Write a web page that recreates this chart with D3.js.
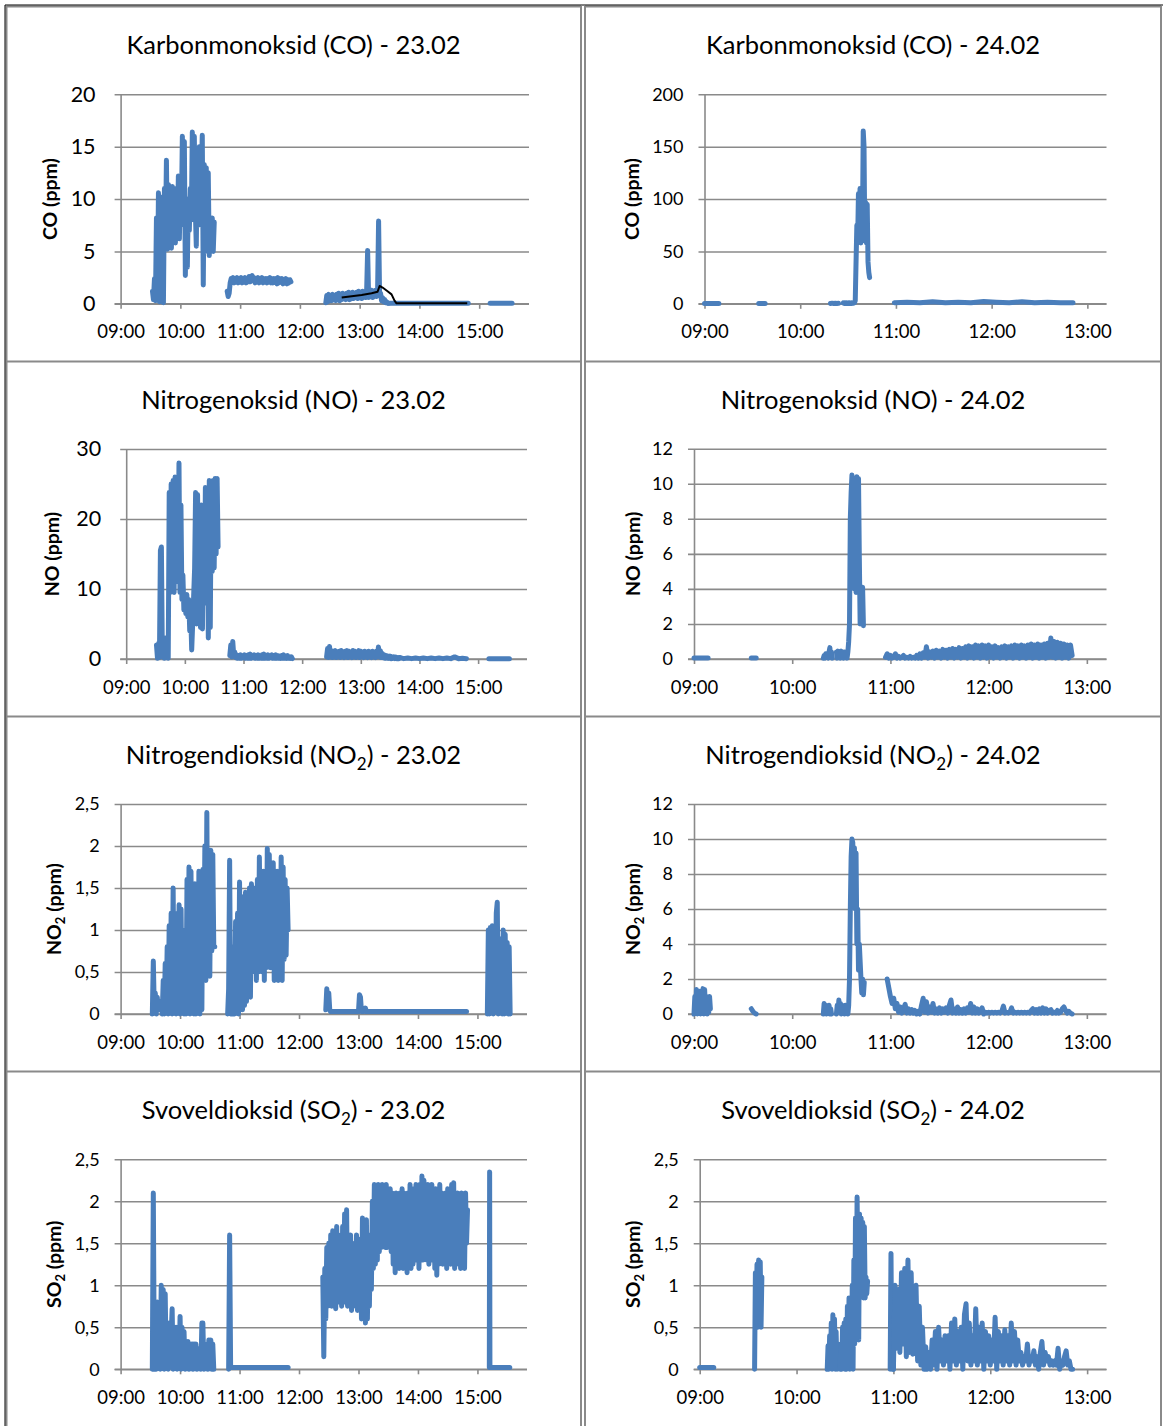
<!DOCTYPE html>
<html><head><meta charset="utf-8">
<script src="https://cdn.jsdelivr.net/npm/d3@7"></script>
<style>
html,body{margin:0;padding:0;background:#fff;}
svg{display:block;}
text{font-family:Lato,"Open Sans",sans-serif;fill:#000;}
</style></head><body>
<svg id="c" width="1163" height="1426"></svg>
<script>
// ---------------- DATA ----------------
// Each series: list of segments [startTime, stepMinutes, values]
const xTickLabels23 = ["09:00","10:00","11:00","12:00","13:00","14:00","15:00"];
const xTickLabels24 = ["09:00","10:00","11:00","12:00","13:00"];
const xEnd23 = "15:50", xEnd24 = "13:12";

const yTicksCO23 = [0,5,10,15,20],        yLabelsCO23 = ["0","5","10","15","20"];
const yTicksCO24 = [0,50,100,150,200],    yLabelsCO24 = ["0","50","100","150","200"];
const yTicksNO23 = [0,10,20,30],          yLabelsNO23 = ["0","10","20","30"];
const yTicksNO24 = [0,2,4,6,8,10,12],     yLabelsNO24 = ["0","2","4","6","8","10","12"];
const yTicksNO2_23 = [0,0.5,1,1.5,2,2.5], yLabelsNO2_23 = ["0","0,5","1","1,5","2","2,5"];
const yTicksNO2_24 = [0,2,4,6,8,10,12],   yLabelsNO2_24 = ["0","2","4","6","8","10","12"];
const yTicksSO2 = [0,0.5,1,1.5,2,2.5],    yLabelsSO2 = ["0","0,5","1","1,5","2","2,5"];

const titles = [
  ["Karbonmonoksid (CO) - 23.02"], ["Karbonmonoksid (CO) - 24.02"],
  ["Nitrogenoksid (NO) - 23.02"], ["Nitrogenoksid (NO) - 24.02"],
  ["Nitrogendioksid (NO","2",") - 23.02"], ["Nitrogendioksid (NO","2",") - 24.02"],
  ["Svoveldioksid (SO","2",") - 23.02"], ["Svoveldioksid (SO","2",") - 24.02"]
];
const yTitles = [
  ["CO (ppm)"], ["CO (ppm)"], ["NO (ppm)"], ["NO (ppm)"],
  ["NO","2"," (ppm)"], ["NO","2"," (ppm)"], ["SO","2"," (ppm)"], ["SO","2"," (ppm)"]
];

const CO_23 = [
  ["09:32", 1, [1.2,0.4,2.4,0.3,8.2,1.0,10.6,0.2,9.6,4.0,10.2,0.1,11.0,6.0,13.7,5.2,11.4,6.0,10.8,5.3,11.2,6.5,10.5,5.8,11.0,7.0,12.2,6.2,11.5,8.5,16.0,7.5,15.5,2.7,9.0,3.5,10.0,7.0,11.0,8.0,16.4,8.5,16.0,9.0,5.5,14.5,7.5,15.0,9.0,12.0,16.1,1.8,13.3,5.0,13.0,6.0,12.5,4.6,8.0,5.2,8.2,5.0,7.8]],
  ["10:47", 1, [1.2,0.7,1.0,2.0,2.4,2.1,2.5,2.0,2.4,2.1,2.5,2.0,2.4,2.2,2.5,2.0,2.4,2.1,2.5,2.0,2.4,2.1,2.6,2.1,2.5,2.7,2.2,2.5,2.0,2.4,2.1,2.5,2.0,2.4,2.1,2.5,2.0,2.4,2.1,2.4,2.0,2.4,2.1,2.5,2.0,2.4,2.0,2.4,2.1,2.4,1.9,2.5,2.0,2.4,2.1,2.4,1.9,2.3,2.0,2.4,1.9,2.3,2.0,2.3,2.1]],
  ["12:26", 1, [0.1,0.8,0.2,0.9,0.3,0.8,0.3,0.9,0.4,0.8, 0.3,0.9,0.4,1.0,0.3,0.9,0.4,1.0,0.5,0.9, 0.4,1.0,0.5,1.1,0.4,1.0,0.5,1.1,0.5,1.0, 0.6,1.1,0.5,1.2,0.6,1.1,0.5,1.2,0.6,1.1, 0.6,1.2,5.1,0.6,1.2,0.7,1.3,0.6,1.2,0.7, 1.3,0.7,1.2,7.9,0.8,1.0,0.3,0.6,0.2,0.4, 0.1,0.2,0.05,0.05]],
  ["13:29", 80, [0.05,0.05]],
  ["15:11", 22, [0.05,0.05]]
];
const CO_23_ref = [["12:42",0.6],["12:50",0.7],["13:02",0.85],["13:12",1.0],["13:16",1.1],["13:18",1.15],["13:20",1.7],["13:23",1.55],["13:28",1.2],["13:32",0.9],["13:35",0.3],["13:37",0.05],["14:48",0.05]];

const CO_24 = [
  ["09:00", 9, [0.3,0.3]],
  ["09:34", 4, [0.3,0.3]],
  ["10:19", 1, [0.3,0.6,0.3,0.5,0.3,0.5]],
  ["10:27", 0.5, [0.8,0.3,1.0,0.4,0.9,0.3,1.0,0.4,0.9,0.3,1.0,0.4,0.9,0.5,1.0,3,40,75,60,105,65,110,58,100,70,165,150,60,97,58,95,40,30,25]],
  ["10:59", 8, [1,1.5,1,2,1,1.5,1,2.2,1.5,1,2,1,1.5,1,1]]
];

const NO_23 = [
  ["09:31", 1, [2.0,0.1,2.2,0.2,15.5,16.0,0.3,2.5,0.1,3.0,0.2,2.8,0.1,23.8,9.5,25.0,10.0,25.5,9.5,26.0,11.0,25.0,12.0,28.0,9.5,22.0,8.5,12.0,7.0,9.0,6.5,9.2,6.0,8.5,4.0,6.5,1.3,5.0,9.0,13.0,23.8,5.0,23.5,6.0,21.0,4.5,22.0,4.3,20.0,8.0,24.5,10.0,24.0,3.0,25.5,4.5,25.0,12.5,25.5,13.0,25.8,15.0,25.8,16.0]],
  ["10:46", 1, [0.5,2.0,0.3,2.5,0.5,1.0,0.2, 0.6,0.1,0.5,0.1,0.6,0.1,0.5,0.2,0.6,0.1, 0.5,0.1,0.6,0.1,0.7,0.1,0.5,0.2,0.6,0.1, 0.5,0.1,0.6,0.1,0.5,0.1,0.6,0.1,0.7,0.1, 0.5,0.1,0.6,0.1,0.5,0.2,0.6,0.1,0.5,0.1, 0.6,0.1,0.5,0.1,0.4,0.1,0.5,0.1,0.6,0.1, 0.4,0.1,0.5,0.1,0.3,0.1,0.3,0.05]],
  ["12:25", 1, [0.3,1.5,0.2,1.8,0.3,1.2,0.2,1.1,0.3,1.2, 0.2,1.0,0.3,1.1,0.2,1.2,0.3,1.0,0.2,1.1, 0.3,1.2,0.2,1.1,0.3,1.0,0.2,1.2,0.3,1.1, 0.2,1.0,0.3,1.2,0.2,1.1,0.3,1.0,0.2,1.1, 0.3,1.0,0.2,1.1,0.3,1.0,0.2,1.1,0.3,1.0, 0.2,1.1,0.3,1.7,0.3,1.2,0.2,0.8,0.2,0.6, 0.1,0.5,0.1,0.4,0.1,0.4,0.05,0.3,0.1,0.3, 0.05,0.25,0.05,0.2,0.05,0.2]],
  ["13:40", 4, [0.2,0.05,0.15,0.05,0.15,0.05,0.15,0.05,0.15,0.05,0.15,0.05,0.15,0.05,0.3,0.05,0.1,0.05]],
  ["15:11", 21, [0.05,0.05]]
];

const NO_24 = [
  ["09:00", 8.6, [0.05,0.05]],
  ["09:35", 3, [0.05,0.05]],
  ["10:19", 0.5, [0.05,0.2,0.05,0.3,0.1,0.2,0.05,0.4,0.65,0.1,0.4,0.05]],
  ["10:27", 0.5, [0.4,0.05,0.45,0.1,0.4,0.05,0.45,0.1,0.4,0.05,0.4,0.1,0.35,0.05,0.4,1.0,2.0,8.0,9.5,10.5,5.0,10.3,4.0,9.0,3.8,10.4,5.0,10.3,5.8,2.0,4.0,2.0,4.1,1.9]],
  ["10:57", 1, [0.1,0.3,0.05,0.2,0.05,0.1,0.3,0.05,0.15,0.05,0.1,0.2,0.05,0.1,0.05,0.15,0.05,0.1,0.05,0.2,0.1]],
  ["11:17", 1, [0.05,0.3,0.05,0.35,0.1,0.7,0.05,0.4,0.1,0.45, 0.05,0.5,0.1,0.45,0.05,0.55,0.1,0.5,0.05,0.55, 0.1,0.6,0.05,0.55,0.1,0.65,0.05,0.6,0.1,0.7, 0.05,0.75,0.1,0.7,0.05,0.8,0.1,0.75,0.05,0.8, 0.1,0.75,0.05,0.8,0.1,0.7,0.05,0.75,0.1,0.65, 0.05,0.7,0.1,0.75,0.05,0.7,0.1,0.75,0.05,0.8, 0.1,0.75,0.05,0.8,0.1,0.75,0.05,0.8,0.1,0.85, 0.05,0.8,0.1,0.85,0.05,0.8,0.1,0.85,0.05,0.9, 0.1,1.2,0.1,1.0,0.05,0.95,0.1,0.9,0.05,0.85, 0.1,0.8,0.05,0.8,0.2]]
];

const NO2_23 = [
  ["09:32", 1, [0.0,0.63,0.05,0.25,0.0,0.2,0.05,0.15,0.05,0.1,0.0,0.4,0.0,0.6,0.1,0.8,0.0,1.05,0.2,1.2,0.0,1.5,0.1,1.2,0.0,1.0,0.3,1.3,0.0,1.25,0.1,1.0,0.0,0.75,0.0,1.6,0.3,1.75,0.0,1.7,0.2,1.5,0.0,1.55,0.0,1.2,0.1,1.7,0.0,1.4,0.05,1.72,0.5,2.0,0.4,2.4,0.45,1.6,0.45,1.95,0.75,1.9,0.8,0.8]],
  ["10:48", 1, [0.0,0.3,1.83,0.0,0.6,0.0,0.8,0.0,1.1,0.05, 1.2,0.0,1.57,0.1,1.4,0.05,1.3,0.1,1.45,0.15, 1.3,0.3,1.5,0.2,1.55,0.5,1.3,0.6,1.5,0.4, 1.6,0.5,1.87,0.6,1.7,0.5,1.7,0.4,1.6,0.55, 1.97,0.7,1.9,0.55,1.5,0.6,1.8,0.4,1.65,0.6, 1.7,0.4,1.6,0.7,1.87,0.4,1.75,0.65,1.6,0.7, 1.5,1.0]],
  ["12:27", 1, [0.05,0.3,0.15,0.25,0.05,0.03]],
  ["12:32", 28, [0.03,0.03]],
  ["13:00", 1, [0.03,0.23,0.2,0.03,0.07,0.03,0.05,0.07,0.03]],
  ["13:08", 101, [0.03,0.03]],
  ["15:10", 1, [0.0,1.0,0.0,1.03,0.05,1.05,0.0,1.0,0.1,1.2,1.33,0.0,0.9,0.05,0.85,0.0,1.0,0.0,0.95,0.05,0.85,0.0,0.8,0.0]]
];

const NO2_24 = [
  ["09:00", 0.5, [0.0,1.0,0.1,1.4,0.0,1.2,0.2,1.3,0.0,1.1,0.1,1.45,0.0,1.4,0.2,1.0,0.0,0.9,0.1,1.0,0.3]],
  ["09:35", 1, [0.3,0.15,0.05,0.0]],
  ["10:19", 0.5, [0.0,0.6,0.1,0.5,0.0,0.4,0.1,0.5,0.0,0.3,0.0]],
  ["10:27", 0.5, [0.0,0.5,0.1,0.8,0.2,0.6,0.0,0.5,0.1,0.4,0.0,0.5,0.1,0.4,0.0,0.5,2.0,6.0,9.0,10.0,9.8,7.0,9.5,6.0,9.2,4.0,6.0,2.5,4.0,3.0,2.0,1.2,2.0,1.1,1.8]],
  ["10:58", 1, [2.0,1.5,1.0,0.6,0.9,0.3,0.6,0.1,0.4,0.05, 0.3,0.55,0.05,0.3,0.05,0.25,0.05,0.2,0.0,0.15, 0.0,0.5,0.9,0.1,0.7,0.05,0.4,0.1,0.6,0.05, 0.3,0.05,0.35,0.05,0.3,0.1,0.35,0.05,0.5,0.8, 0.05,0.3,0.05,0.4,0.05,0.25,0.05,0.3,0.05,0.35, 0.1,0.6,0.05,0.4,0.05,0.3,0.05,0.2,0.35,0.0, 0.1,0.05,0.1,0.05,0.1,0.05,0.1,0.05,0.1,0.05, 0.15,0.45,0.05,0.1,0.05,0.1,0.35,0.05,0.1,0.05, 0.1,0.05,0.1,0.05,0.1,0.05,0.1,0.05,0.2,0.3, 0.05,0.25,0.05,0.3,0.05,0.35,0.05,0.3,0.05,0.2, 0.25,0.05,0.1,0.05,0.2,0.05,0.1,0.3,0.4,0.2, 0.05,0.15,0.05,0.0]]
];

const SO2_23 = [
  ["09:32", 1, [0.0,2.1,0.0,0.8,0.0,0.8,0.05,0.7,0.0,1.0, 0.1,0.95,0.0,0.9,0.05,0.5,0.0,0.55,0.05,0.4, 0.72,0.0,0.5,0.05,0.5,0.0,0.4,0.05,0.63,0.0, 0.5,0.05,0.45,0.0,0.3,0.05,0.33,0.0,0.25,0.05, 0.3,0.0,0.3,0.05,0.3,0.0,0.2,0.05,0.25,0.0, 0.55,0.55,0.0,0.3,0.05,0.25,0.0,0.35,0.05,0.35, 0.0,0.3,0.0]],
  ["10:49", 1, [0.0,1.6,0.02]],
  ["10:51", 58, [0.02,0.02]],
  ["12:24", 1, [1.1,0.15,1.2,0.6,1.45,0.75,1.5,0.8,1.6,0.75, 1.65,0.9,1.5,0.72,1.7,0.8,1.6,0.85,1.55,0.75, 1.7,0.9,1.85,0.8,1.9,0.75,1.5,0.85,1.6,0.7, 1.5,0.8,1.45,0.75,1.6,0.7,1.55,0.9,1.5,0.6, 1.8,0.75,1.6,0.55,1.78,0.6,1.5,0.75,1.6,0.95, 2.0,1.2,2.2,1.25,2.15,1.3,2.2,1.4,2.1,1.45, 2.2,1.5,2.15,1.45,2.2,1.45,2.1,1.5,2.15,1.4, 2.1,1.25,2.0,1.15,2.1,1.3,2.0,1.2,2.1,1.3, 2.15,1.2,2.1,1.35,2.0,1.15,2.1,1.3,2.2,1.2, 2.1,1.25,2.15,1.4,2.2,1.3,2.1,1.2,2.2,1.35, 2.3,1.3,2.25,1.4,2.1,1.3,2.2,1.25,2.1,1.4, 2.2,1.3,2.1,1.2,2.15,1.12,2.0,1.25,2.2,1.35, 2.1,1.25,2.0,1.3,2.1,1.2,2.15,1.4,2.0,1.25, 2.2,1.3,2.22,1.2,2.0,1.25,2.1,1.35,2.05,1.2, 2.1,1.4,2.05,1.2,2.1,1.5,1.9]],
  ["15:12", 0.3, [0.02,2.35,0.02]],
  ["15:12:36", 20, [0.02,0.02]]
];

const SO2_24 = [
  ["09:00", 8.7, [0.02,0.02]],
  ["09:34", 0.5, [0,1.15,0.6,1.25,0.5,1.3,0.55,1.28,0.5,1.1]],
  ["10:19", 0.5, [0.0,0.28,0.0,0.4,0.05,0.55,0.0,0.65,0.1,0.6,0.0,0.45,0.0,0.3]],
  ["10:27", 0.5, [0.0,0.3,0.0,0.5,0.05,0.55,0.0,0.6,0.0,0.75, 0.05,0.85,0.0,0.8,0.1,1.0,0.0,1.3,0.3,1.8, 0.5,2.05,1.2,0.35,1.85,1.0,1.8,0.9,1.75,0.85, 1.7,0.85,1.1,0.9,1.05]],
  ["10:58", 0.5, [0.0,1.38,0.0,0.2,0.0]],
  ["11:00", 1, [0.0,1.0,0.25,0.95,0.2,1.15,0.3,1.2,0.15,1.3, 0.2,1.15,0.18,0.9,1.0,0.1,0.75,0.05,0.5,0.0, 0.27,0.0,0.2,0.0,0.35,0.05,0.45,0.0,0.5,0.1, 0.35,0.05,0.4,0.1,0.4,0.0,0.55,0.1,0.6,0.05, 0.45,0.1,0.5,0.0,0.65,0.78,0.1,0.55,0.05,0.4, 0.1,0.72,0.05,0.5,0.1,0.55,0.0,0.45,0.1,0.4, 0.05,0.35,0.1,0.62,0.0,0.45,0.1,0.4,0.05,0.47, 0.1,0.4,0.05,0.55,0.1,0.45,0.05,0.35,0.1,0.2, 0.05,0.15,0.1,0.3,0.05,0.15,0.1,0.22,0.05,0.15, 0.0,0.2,0.33,0.05,0.2,0.1,0.15,0.05,0.1,0.05, 0.1,0.05,0.25,0.0,0.1,0.05,0.15,0.22,0.05,0.1, 0.0,0.0]]
];

// ---------------- LAYOUT ----------------
const rowTops = [6.5, 361.5, 716.5, 1071.5];
const colCenters = [293.5, 873];
const panels = [
  {row:0,col:0,series:CO_23, ref:CO_23_ref, yt:yTicksCO23, yl:yLabelsCO23, ymax:20,  xl:xTickLabels23, xEnd:xEnd23, left:120.6, right:529,    top:94.3,   bottom:303.8, ytf:21.5, ytx:50},
  {row:0,col:1,series:CO_24, yt:yTicksCO24, yl:yLabelsCO24, ymax:200, xl:xTickLabels24, xEnd:xEnd24, left:704.5, right:1106.5, top:94.3,   bottom:303.8, ytf:18, ytx:632},
  {row:1,col:0,series:NO_23, yt:yTicksNO23, yl:yLabelsNO23, ymax:30,  xl:xTickLabels23, xEnd:xEnd23, left:126.2, right:527,    top:449,    bottom:659,   ytf:21.5, ytx:52},
  {row:1,col:1,series:NO_24, yt:yTicksNO24, yl:yLabelsNO24, ymax:12,  xl:xTickLabels24, xEnd:xEnd24, left:694,   right:1106.5, top:448.7,  bottom:659,   ytf:18, ytx:633},
  {row:2,col:0,series:NO2_23, yt:yTicksNO2_23, yl:yLabelsNO2_23, ymax:2.5, xl:xTickLabels23, xEnd:xEnd23, left:120.6, right:527, top:804, bottom:1014, ytf:18, ytx:54},
  {row:2,col:1,series:NO2_24, yt:yTicksNO2_24, yl:yLabelsNO2_24, ymax:12, xl:xTickLabels24, xEnd:xEnd24, left:694, right:1106.5, top:804, bottom:1014, ytf:18, ytx:633},
  {row:3,col:0,series:SO2_23, yt:yTicksSO2, yl:yLabelsSO2, ymax:2.5, xl:xTickLabels23, xEnd:xEnd23, left:120.6, right:527, top:1159.3, bottom:1369.3, ytf:18, ytx:54},
  {row:3,col:1,series:SO2_24, yt:yTicksSO2, yl:yLabelsSO2, ymax:2.5, xl:xTickLabels24, xEnd:xEnd24, left:699.7, right:1106.5, top:1159.3, bottom:1369.3, ytf:18, ytx:633}
];

const GRID = "#8a8a8a", BLUE = "#4A7EBB";
const pHMS = d3.timeParse("%H:%M:%S"), pHM = d3.timeParse("%H:%M");
const parseT = s => pHMS(s) || pHM(s);

const svg = d3.select("#c");

// cell borders
const borders = svg.append("g").attr("fill","none");
[[6.5,581],[585,1161]].forEach(([x1,x2])=>{
  [x1,x2].forEach(x=>borders.append("line").attr("x1",x).attr("x2",x).attr("y1",6).attr("y2",1426).attr("stroke",GRID).attr("stroke-width",2));
  rowTops.forEach(y=>borders.append("line").attr("x1",x1).attr("x2",x2).attr("y1",y).attr("y2",y).attr("stroke",GRID).attr("stroke-width",2));
});
borders.append("line").attr("x1",5).attr("x2",1163).attr("y1",5).attr("y2",5).attr("stroke","#000").attr("stroke-width",1);
borders.append("line").attr("x1",5).attr("x2",5).attr("y1",5).attr("y2",1426).attr("stroke","#000").attr("stroke-width",1);

function addParts(textSel, parts, subSize, subDy){
  parts.forEach((p,i)=>{
    const sub = i % 2 === 1;
    const t = textSel.append("tspan").text(p);
    if (sub) t.attr("font-size", subSize).attr("dy", subDy);
    else if (i > 0) t.attr("dy", -subDy);
  });
}

panels.forEach((P, idx) => {
  const g = svg.append("g");
  const x = d3.scaleTime().domain([parseT("09:00"), parseT(P.xEnd)]).range([P.left, P.right]);
  const y = d3.scaleLinear().domain([0, P.ymax]).range([P.bottom, P.top]);

  // title
  const tt = g.append("text").attr("x", colCenters[P.col]).attr("y", rowTops[P.row] + 47.5)
    .attr("text-anchor","middle").attr("font-size", 25.5);
  addParts(tt, titles[idx], 17, 6);

  // y axis title
  const yt = g.append("text")
    .attr("transform", `translate(${P.ytx},${(P.top+P.bottom)/2}) rotate(-90)`)
    .attr("y", 7).attr("text-anchor","middle").attr("font-size",19.5).attr("font-weight","bold");
  addParts(yt, yTitles[idx], 13, 4);

  // y axis with gridlines
  const ya = g.append("g").attr("transform",`translate(${P.left},0)`)
    .call(d3.axisLeft(y).tickValues(P.yt).tickFormat((d,i)=>P.yl[i])
      .tickSizeInner(-(P.right-P.left)).tickSizeOuter(0).tickPadding(P.ytf > 20 ? 25 : 21));
  ya.selectAll(".tick line").attr("x1", -6).attr("stroke", GRID).attr("stroke-width", 1.6);
  ya.select(".domain").attr("stroke", GRID).attr("stroke-width", 1.6);
  ya.selectAll(".tick text").attr("font-size", P.ytf).attr("font-family","Lato").attr("fill","#000");

  // x axis
  const xa = g.append("g").attr("transform",`translate(0,${P.bottom})`)
    .call(d3.axisBottom(x).tickValues(P.xl.map(parseT)).tickFormat((d,i)=>P.xl[i])
      .tickSizeInner(5).tickSizeOuter(0).tickPadding(16.5));
  xa.select(".domain").attr("stroke", GRID).attr("stroke-width", 1.6)
    .attr("d", `M${P.left-6},0H${P.right}`);
  xa.selectAll(".tick line").attr("stroke", GRID).attr("stroke-width", 1.6);
  xa.selectAll(".tick text").attr("font-size", 18.5).attr("font-family","Lato").attr("fill","#000");

  // data
  const line = d3.line().x(d=>x(d[0])).y(d=>y(d[1]));
  P.series.forEach(([start, step, vals]) => {
    const t0 = +parseT(start);
    const pts = vals.map((v,i)=>[new Date(t0 + i*step*60000), v]);
    g.append("path").attr("d", line(pts)).attr("fill","none").attr("stroke",BLUE)
      .attr("stroke-width",5).attr("stroke-linejoin","round").attr("stroke-linecap","round");
  });
  if (P.ref) {
    const pts = P.ref.map(([t,v])=>[parseT(t), v]);
    g.append("path").attr("d", line(pts)).attr("fill","none").attr("stroke","#000")
      .attr("stroke-width",2).attr("stroke-linejoin","round");
  }
});
</script></body></html>
